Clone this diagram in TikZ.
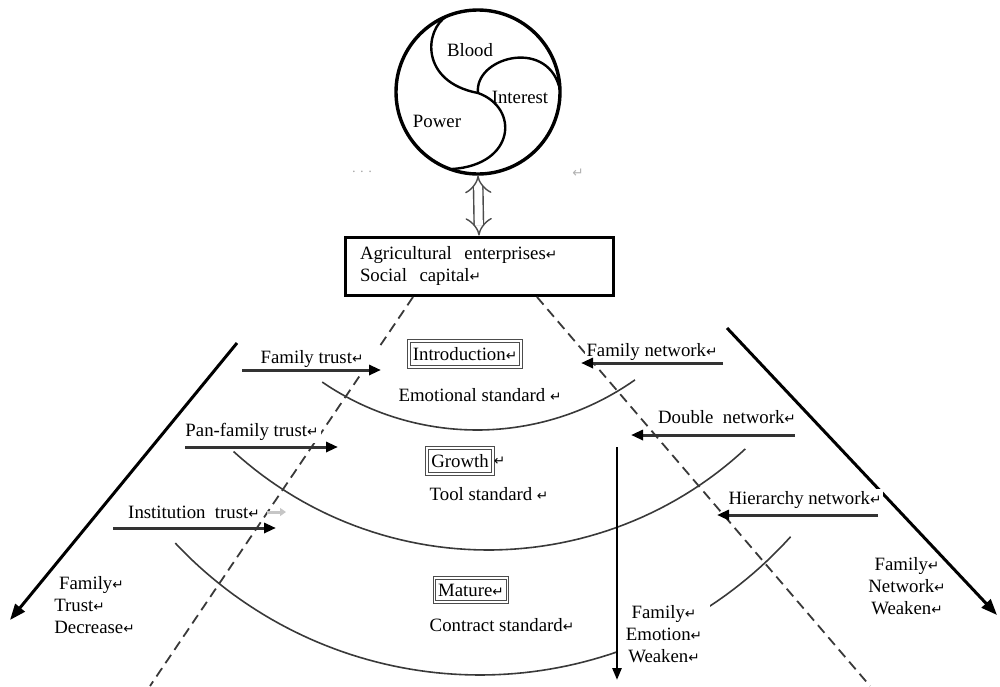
\documentclass[tikz,border=0pt]{standalone}
\usepackage{fontspec}
\setmainfont{Liberation Serif}
\newfontfamily\symf{DejaVu Sans}
\usetikzlibrary{arrows.meta}
\newcommand\ret{{\symf\fontsize{6.8}{6}\selectfont ↵}}
\begin{document}
\begin{tikzpicture}[x=0.5pt,y=-0.5pt,font=\fontsize{9.4}{11}\selectfont]
\tikzset{
  lbl/.style={fill=white, inner sep=1pt},
  stagebox/.style={draw=gray!60!black, double=white, double distance=0.8pt, line width=0.5pt, inner sep=1.8pt},
  harrow/.style={draw=gray!40!black, line width=1.5pt, -{Triangle[length=6pt,width=5pt,color=black]}},
  arcline/.style={draw=gray!45!black, line width=0.8pt},
  dline/.style={draw=gray!45!black, line width=0.9pt, dash pattern=on 5pt off 3pt},
  bigline/.style={draw=black, line width=1.5pt, -{Triangle[length=8pt,width=6pt]}}
}
\useasboundingbox (0,0) rectangle (1000,686);

% top capital circle
\node (cap) [circle, draw, line width=1.7pt, minimum size=82pt, inner sep=0pt] at (478,92) {};
\draw[line width=1.2pt] (447,16) .. controls (424,30) and (420,82) .. (478,93)
   .. controls (520,108) and (515,165) .. (452,169);
\draw[line width=1.2pt] (478,93) .. controls (474,58) and (545,38) .. (559,86);
\node (blood) at (470,50) {Blood};
\node (interest) at (520,97) {Interest};
\node (power) at (437,121) {Power};
\node (dots) [text=gray!70] at (362,174) {\fontsize{7}{8}\selectfont · · ·};
\node (dret) [text=gray!60] at (578,173) {\ret};

% social capital box
\node (sc) [draw, line width=1.5pt, minimum width=134pt, minimum height=29pt,
  align=left, text width=119pt, inner xsep=7.5pt] at (479,266)
  {Agricultural\ \ enterprises\ret\\Social\ \ capital\ret};
\draw[draw=gray!60!black, line width=0.7pt, double=white, double distance=4pt,
  {Implies}-{Implies}] (cap.south) -- (sc.north);

% arcs
\draw[arcline] plot[domain=54.8:124.4, samples=60] ({477+274*cos(\x)},{156+274*sin(\x)});
\draw[arcline] plot[domain=47.1:132.3, samples=60] ({488+378*cos(\x)},{172+378*sin(\x)});
\draw[arcline] plot[domain=42.0:136.8, samples=80] ({480+418*cos(\x)},{257+418*sin(\x)});

% dashed lines
\coordinate (dl1) at (413,297);
\coordinate (dl2) at (150,686);
\coordinate (dr1) at (537,297);
\coordinate (dr2) at (870,686);
\draw[dline] (dl1) -- (dl2);
\draw[dline] (dr1) -- (dr2);

% big diagonals
\coordinate (ls) at (237,343);
\coordinate (le) at (10,620);
\coordinate (rs) at (727,328);
\coordinate (re) at (997,615);
\draw[bigline] (ls) -- (le);
\draw[bigline] (rs) -- (re);

% stage labels
\node (intro) [stagebox, minimum width=56pt, minimum height=13pt] at (465,354) {Introduction\ret};
\node (emo) [lbl] at (480,395) {Emotional standard \ret};
\node (growth) [stagebox, minimum width=33pt, minimum height=13pt,
  label={[inner sep=0pt]right:\ret}] at (460,461) {Growth};
\node (tool) [lbl] at (489,494) {Tool standard \ret};
\node (mature) [stagebox, minimum width=33pt, minimum height=12pt] at (471,590) {Mature\ret};
\node (contract) [lbl] at (502,625) {Contract standard\ret};

% left labels
\node (ftrust) [lbl, inner xsep=8pt, inner ysep=3pt] at (312,359) {Family trust\ret};
\node (ptrust) [lbl] at (252,432) {Pan-family trust\ret};
\node (itrust) [lbl] at (194,512) {Institution\ \ trust\ret};
\node (ftd) [lbl, align=left, anchor=north west] at (52,574) {\ Family\ret\\Trust\ret\\Decrease\ret};

% right labels
\node (fnet) [lbl] at (652,352) {Family network\ret};
\node (dnet) [lbl] at (727,417) {Double\ \ network\ret};
\node (hnet) [lbl] at (805,500) {Hierarchy network\ret};
\node (fnw) [align=center, inner sep=0.5pt] at (907,586) {Family\ret\\Network\ret\\Weaken\ret};
\node (few) [lbl, align=center, inner xsep=4pt, inner ysep=3pt] at (664,634) {Family\ret\\Emotion\ret\\Weaken\ret};

% horizontal arrows
\coordinate (a1s) at (242,370); \coordinate (a1e) at (381,370);
\coordinate (a2s) at (185,447); \coordinate (a2e) at (338,447);
\coordinate (a3s) at (113,528); \coordinate (a3e) at (276,528);
\coordinate (b1s) at (723,363); \coordinate (b1e) at (581,363);
\coordinate (b2s) at (795,435); \coordinate (b2e) at (631,435);
\coordinate (b3s) at (878,515); \coordinate (b3e) at (717,515);
\draw[harrow] (a1s) -- (a1e);
\draw[harrow] (a2s) -- (a2e);
\draw[harrow] (a3s) -- (a3e);
\draw[harrow] (b1s) -- (b1e);
\draw[harrow] (b2s) -- (b2e);
\draw[harrow] (b3s) -- (b3e);
\coordinate (g1) at (267,512); \coordinate (g2) at (286,512);
\draw[draw=gray!45, line width=1.5pt, -{Triangle[length=3pt,width=4pt]}] (g1) -- (g2);

% vertical arrow
\coordinate (vt) at (617,447);
\coordinate (vb) at (617,680);
\draw[line width=1.3pt, -{Triangle[length=6pt,width=4.5pt]}] (vt) -- (vb);
\end{tikzpicture}
\end{document}
